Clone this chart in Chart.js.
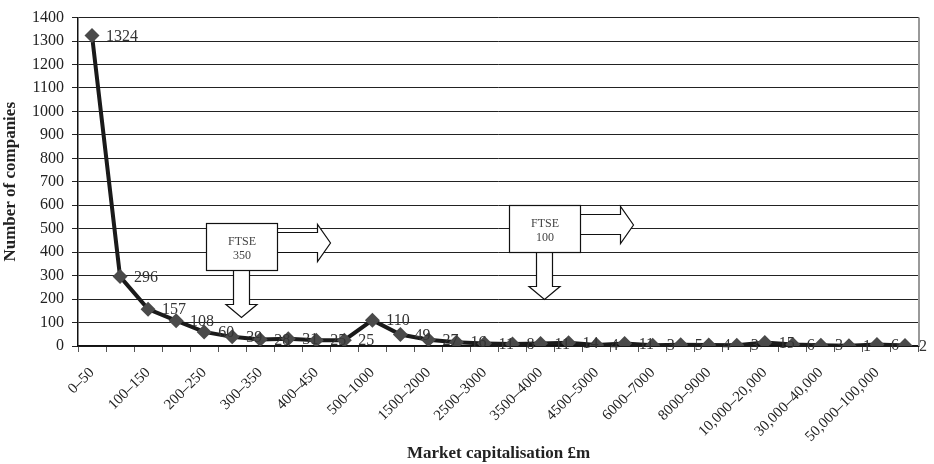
<!DOCTYPE html>
<html>
<head>
<meta charset="utf-8">
<script src="https://cdn.jsdelivr.net/npm/chart.js@4.4.0/dist/chart.umd.min.js"></script>
<style>
html, body { margin: 0; padding: 0; background: #fff; }
#wrap { width: 934px; height: 464px; }
</style>
</head>
<body>
<div id="wrap"><canvas id="capChart"></canvas></div>
<script>
'use strict'
// size bands (market cap, £m) and number of companies in each
const bands = ['0–50', '50–100', '100–150', '150–200', '200–250', '250–300', '300–350', '350–400',
    '400–450', '450–500', '500–1000', '1000–1500', '1500–2000', '2000–2500', '2500–3000', '3000–3500',
    '3500–4000', '4000–4500', '4500–5000', '5000–6000', '6000–7000', '7000–8000', '8000–9000',
    '9000–10,000', '10,000–20,000', '20,000–30,000', '30,000–40,000', '40,000–50,000',
    '50,000–100,000', '>100,000'];
const companies = [1324, 296, 157, 108, 60, 39, 28, 31, 25, 25, 110, 49, 27, 16, 11, 8, 11, 14, 4, 11,
    3, 5, 4, 3, 15, 6, 3, 1, 6, 2];
// only every other band is labelled on the axis
const tickBands = ['0–50', '100–150', '200–250', '300–350', '400–450', '500–1000', '1500–2000',
    '2500–3000', '3500–4000', '4500–5000', '6000–7000', '8000–9000', '10,000–20,000',
    '30,000–40,000', '50,000–100,000'];
const yTicks = [0, 1400, 100]; // min, max, step

const SERIF = "'Liberation Serif', 'Times New Roman', serif";

// FTSE boxes, anchored (top-left) in axis units: band index, companies
const ftseBoxes = [
    {text: ['FTSE', '350'], at: [4.07, 524]},
    {text: ['FTSE', '100'], at: [14.86, 599]}
];

const ftsePlugin = {
    id: 'ftse',
    afterDraw(chart) {
        const ctx = chart.ctx;
        const x = chart.scales.x, y = chart.scales.y;
        const area = chart.chartArea;
        ctx.save();
        // grey frame on the right of the plot
        ctx.strokeStyle = '#999';
        ctx.lineWidth = 2;
        ctx.beginPath();
        ctx.moveTo(area.right, area.top);
        ctx.lineTo(area.right, area.bottom);
        ctx.stroke();

        ftseBoxes.forEach(b => {
            const bx = Math.round(x.getPixelForValue(b.at[0])) + 0.5;
            const by = Math.round(y.getPixelForValue(b.at[1])) + 0.5;
            const w = 71, h = 47;
            ctx.fillStyle = '#fff';
            ctx.strokeStyle = '#111';
            ctx.lineWidth = 1.2;

            // arrow to the right
            const sx = bx + w, ex = sx + 40, tip = ex + 13;
            ctx.beginPath();
            ctx.moveTo(sx, by + 9);
            ctx.lineTo(ex, by + 9);
            ctx.lineTo(ex, by + 1);
            ctx.lineTo(tip, by + 19.5);
            ctx.lineTo(ex, by + 38);
            ctx.lineTo(ex, by + 29);
            ctx.lineTo(sx, by + 29);
            ctx.fill();
            ctx.stroke();

            // arrow down
            const cx = bx + 35, sy = by + h, ey = sy + 34;
            ctx.beginPath();
            ctx.moveTo(cx - 8, sy);
            ctx.lineTo(cx - 8, ey);
            ctx.lineTo(cx - 15.5, ey);
            ctx.lineTo(cx, ey + 13);
            ctx.lineTo(cx + 15.5, ey);
            ctx.lineTo(cx + 8, ey);
            ctx.lineTo(cx + 8, sy);
            ctx.fill();
            ctx.stroke();

            // box
            ctx.fillRect(bx, by, w, h);
            ctx.strokeRect(bx, by, w, h);
            ctx.fillStyle = '#444';
            ctx.font = '12px ' + SERIF;
            ctx.textAlign = 'center';
            ctx.textBaseline = 'middle';
            ctx.fillText(b.text[0], bx + w / 2, by + 18);
            ctx.fillText(b.text[1], bx + w / 2, by + 32);
        });
        ctx.restore();
    }
};

// value written to the right of each marker
const valueLabels = {
    id: 'valueLabels',
    afterDatasetsDraw(chart) {
        const ctx = chart.ctx;
        const meta = chart.getDatasetMeta(0);
        ctx.save();
        ctx.font = '16px ' + SERIF;
        ctx.fillStyle = '#333';
        ctx.textAlign = 'left';
        ctx.textBaseline = 'middle';
        meta.data.forEach((pt, i) => {
            ctx.fillText(String(companies[i]), pt.x + 14, pt.y + 1);
        });
        ctx.restore();
    }
};

const capChart = new Chart(document.getElementById('capChart'), {
    type: 'line',
    data: {
        labels: bands,
        datasets: [{
            data: companies,
            borderColor: '#1a1a1a',
            borderWidth: 4,
            tension: 0,
            pointStyle: 'rectRot',
            pointRadius: 7.5,
            pointHoverRadius: 7.5,
            pointBackgroundColor: '#4a4a4a',
            pointBorderColor: '#4a4a4a',
            pointBorderWidth: 0
        }]
    },
    options: {
        responsive: true,
        maintainAspectRatio: false,
        animation: false,
        layout: {padding: {top: 12, right: 15, left: 0, bottom: 0}},
        plugins: {
            legend: {display: false},
            tooltip: {enabled: false}
        },
        scales: {
            x: {
                offset: true,
                grid: {
                    offset: true,
                    drawOnChartArea: false,
                    drawTicks: true,
                    tickLength: 6,
                    color: '#555'
                },
                border: {color: '#111', width: 1.5},
                ticks: {
                    autoSkip: false,
                    minRotation: 45,
                    maxRotation: 45,
                    padding: 12,
                    color: '#222',
                    font: {family: SERIF, size: 15},
                    callback: function (val, i) {
                        const lab = bands[i];
                        return tickBands.includes(lab) ? lab : '';
                    }
                },
                title: {
                    display: true,
                    text: 'Market capitalisation £m',
                    color: '#222',
                    font: {family: SERIF, size: 17, weight: 'bold'},
                    padding: 0
                },
                afterFit: function (scale) { scale.height = 118; }
            },
            y: {
                min: yTicks[0],
                max: yTicks[1],
                grid: {
                    color: '#222',
                    lineWidth: 1,
                    tickLength: 6
                },
                border: {color: '#111', width: 1.5},
                ticks: {
                    stepSize: yTicks[2],
                    autoSkip: false,
                    padding: 8,
                    color: '#222',
                    font: {family: SERIF, size: 16},
                    callback: function (val) { return String(val); }
                },
                title: {
                    display: true,
                    text: 'Number of companies',
                    color: '#222',
                    font: {family: SERIF, size: 17, weight: 'bold'},
                    padding: 0
                },
                afterFit: function (scale) { scale.width = 78; }
            }
        }
    },
    plugins: [valueLabels, ftsePlugin]
});
</script>
</body>
</html>
